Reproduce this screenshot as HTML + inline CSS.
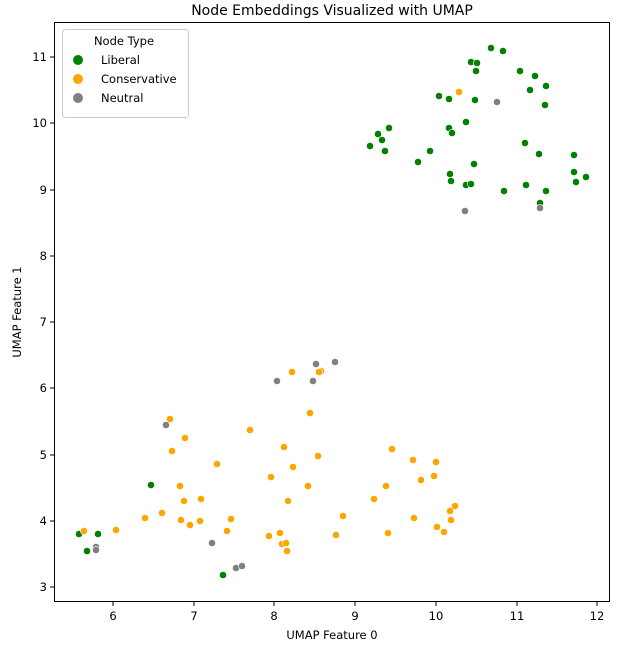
<!DOCTYPE html>
<html><head><meta charset="utf-8"><style>
body{margin:0;background:#fff;}
svg{display:block;font-family:"DejaVu Sans","Liberation Sans",sans-serif;}
</style></head><body>
<svg width="638" height="656" viewBox="0 0 638 656" xmlns="http://www.w3.org/2000/svg">
<rect width="638" height="656" fill="#fff"/>
<text x="332" y="15" font-size="14" text-anchor="middle" fill="#000">Node Embeddings Visualized with UMAP</text>
<rect x="54.5" y="22.5" width="555" height="579" fill="none" stroke="#000" stroke-width="1"/>
<g stroke="#000" stroke-width="1">
<line x1="113" y1="602" x2="113" y2="606"/><line x1="194" y1="602" x2="194" y2="606"/><line x1="274" y1="602" x2="274" y2="606"/><line x1="355" y1="602" x2="355" y2="606"/><line x1="436" y1="602" x2="436" y2="606"/><line x1="517" y1="602" x2="517" y2="606"/><line x1="597" y1="602" x2="597" y2="606"/>
<line x1="50" y1="57" x2="54" y2="57"/><line x1="50" y1="123" x2="54" y2="123"/><line x1="50" y1="190" x2="54" y2="190"/><line x1="50" y1="256" x2="54" y2="256"/><line x1="50" y1="322" x2="54" y2="322"/><line x1="50" y1="388" x2="54" y2="388"/><line x1="50" y1="455" x2="54" y2="455"/><line x1="50" y1="521" x2="54" y2="521"/><line x1="50" y1="587" x2="54" y2="587"/>
</g>
<g font-size="11.5" fill="#000" text-anchor="middle">
<text x="113" y="620">6</text><text x="194" y="620">7</text><text x="274" y="620">8</text><text x="355" y="620">9</text><text x="436" y="620">10</text><text x="517" y="620">11</text><text x="597" y="620">12</text>
</g>
<g font-size="11.5" fill="#000" text-anchor="end">
<text x="47" y="61">11</text><text x="47" y="127">10</text><text x="47" y="194">9</text><text x="47" y="260">8</text><text x="47" y="326">7</text><text x="47" y="392">6</text><text x="47" y="459">5</text><text x="47" y="525">4</text><text x="47" y="591">3</text>
</g>
<text x="332" y="639" font-size="11.5" text-anchor="middle">UMAP Feature 0</text>
<text transform="translate(21,312) rotate(-90)" font-size="11.5" text-anchor="middle">UMAP Feature 1</text>
<g stroke="#fff" stroke-width="0.6">
<g fill="#008000">
<circle cx="491" cy="48" r="3.6"/><circle cx="503" cy="51" r="3.6"/><circle cx="471" cy="62" r="3.6"/><circle cx="477" cy="63" r="3.6"/><circle cx="476" cy="71" r="3.6"/><circle cx="520" cy="71" r="3.6"/><circle cx="535" cy="76" r="3.6"/><circle cx="546" cy="86" r="3.6"/><circle cx="530" cy="90" r="3.6"/><circle cx="439" cy="96" r="3.6"/><circle cx="449" cy="99" r="3.6"/><circle cx="475" cy="100" r="3.6"/><circle cx="545" cy="105" r="3.6"/><circle cx="466" cy="122" r="3.6"/><circle cx="389" cy="128" r="3.6"/><circle cx="449" cy="128" r="3.6"/><circle cx="452" cy="133" r="3.6"/><circle cx="378" cy="134" r="3.6"/><circle cx="382" cy="140" r="3.6"/><circle cx="370" cy="146" r="3.6"/><circle cx="385" cy="151" r="3.6"/><circle cx="430" cy="151" r="3.6"/><circle cx="525" cy="143" r="3.6"/><circle cx="539" cy="154" r="3.6"/><circle cx="574" cy="155" r="3.6"/><circle cx="418" cy="162" r="3.6"/><circle cx="474" cy="164" r="3.6"/><circle cx="450" cy="174" r="3.6"/><circle cx="451" cy="181" r="3.6"/><circle cx="466" cy="185" r="3.6"/><circle cx="471" cy="184" r="3.6"/><circle cx="574" cy="172" r="3.6"/><circle cx="586" cy="177" r="3.6"/><circle cx="576" cy="182" r="3.6"/><circle cx="504" cy="191" r="3.6"/><circle cx="526" cy="185" r="3.6"/><circle cx="546" cy="191" r="3.6"/><circle cx="540" cy="203" r="3.6"/>
<circle cx="151" cy="485" r="3.6"/><circle cx="79" cy="534" r="3.6"/><circle cx="98" cy="534" r="3.6"/><circle cx="87" cy="551" r="3.6"/><circle cx="223" cy="575" r="3.6"/>
</g>
<g fill="#ffa500">
<circle cx="459" cy="92" r="3.6"/>
<circle cx="292" cy="372" r="3.6"/><circle cx="321" cy="371" r="3.6"/><circle cx="319" cy="372" r="3.6"/><circle cx="310" cy="413" r="3.6"/><circle cx="170" cy="419" r="3.6"/><circle cx="250" cy="430" r="3.6"/><circle cx="185" cy="438" r="3.6"/><circle cx="172" cy="451" r="3.6"/><circle cx="284" cy="447" r="3.6"/><circle cx="318" cy="456" r="3.6"/><circle cx="217" cy="464" r="3.6"/><circle cx="293" cy="467" r="3.6"/><circle cx="271" cy="477" r="3.6"/><circle cx="180" cy="486" r="3.6"/><circle cx="308" cy="486" r="3.6"/><circle cx="184" cy="501" r="3.6"/><circle cx="201" cy="499" r="3.6"/><circle cx="288" cy="501" r="3.6"/><circle cx="343" cy="516" r="3.6"/><circle cx="162" cy="513" r="3.6"/><circle cx="145" cy="518" r="3.6"/><circle cx="181" cy="520" r="3.6"/><circle cx="190" cy="525" r="3.6"/><circle cx="200" cy="521" r="3.6"/><circle cx="231" cy="519" r="3.6"/><circle cx="227" cy="531" r="3.6"/><circle cx="84" cy="531" r="3.6"/><circle cx="116" cy="530" r="3.6"/><circle cx="269" cy="536" r="3.6"/><circle cx="280" cy="533" r="3.6"/><circle cx="336" cy="535" r="3.6"/><circle cx="282" cy="544" r="3.6"/><circle cx="286" cy="543" r="3.6"/><circle cx="287" cy="551" r="3.6"/>
<circle cx="392" cy="449" r="3.6"/><circle cx="413" cy="460" r="3.6"/><circle cx="436" cy="462" r="3.6"/><circle cx="421" cy="480" r="3.6"/><circle cx="434" cy="476" r="3.6"/><circle cx="386" cy="486" r="3.6"/><circle cx="374" cy="499" r="3.6"/><circle cx="455" cy="506" r="3.6"/><circle cx="450" cy="511" r="3.6"/><circle cx="451" cy="520" r="3.6"/><circle cx="414" cy="518" r="3.6"/><circle cx="437" cy="527" r="3.6"/><circle cx="444" cy="532" r="3.6"/><circle cx="388" cy="533" r="3.6"/>
</g>
<g fill="#808080">
<circle cx="497" cy="102" r="3.6"/><circle cx="465" cy="211" r="3.6"/><circle cx="540" cy="208" r="3.6"/>
<circle cx="316" cy="364" r="3.6"/><circle cx="335" cy="362" r="3.6"/><circle cx="277" cy="381" r="3.6"/><circle cx="313" cy="381" r="3.6"/><circle cx="166" cy="425" r="3.6"/><circle cx="212" cy="543" r="3.6"/><circle cx="96" cy="547" r="3.6"/><circle cx="96" cy="550" r="3.6"/><circle cx="236" cy="568" r="3.6"/><circle cx="242" cy="566" r="3.6"/>
</g>
</g>
<rect x="62.5" y="29.5" width="126" height="88" rx="3" fill="#fff" fill-opacity="0.8" stroke="#ccc" stroke-width="1"/>
<text x="124" y="45" font-size="11.5" text-anchor="middle">Node Type</text>
<circle cx="78" cy="60" r="5" fill="#008000"/><text x="101" y="64" font-size="11.5">Liberal</text>
<circle cx="78" cy="79" r="5" fill="#ffa500"/><text x="101" y="83" font-size="11.5">Conservative</text>
<circle cx="78" cy="98" r="5" fill="#808080"/><text x="101" y="102" font-size="11.5">Neutral</text>
</svg>
</body></html>
